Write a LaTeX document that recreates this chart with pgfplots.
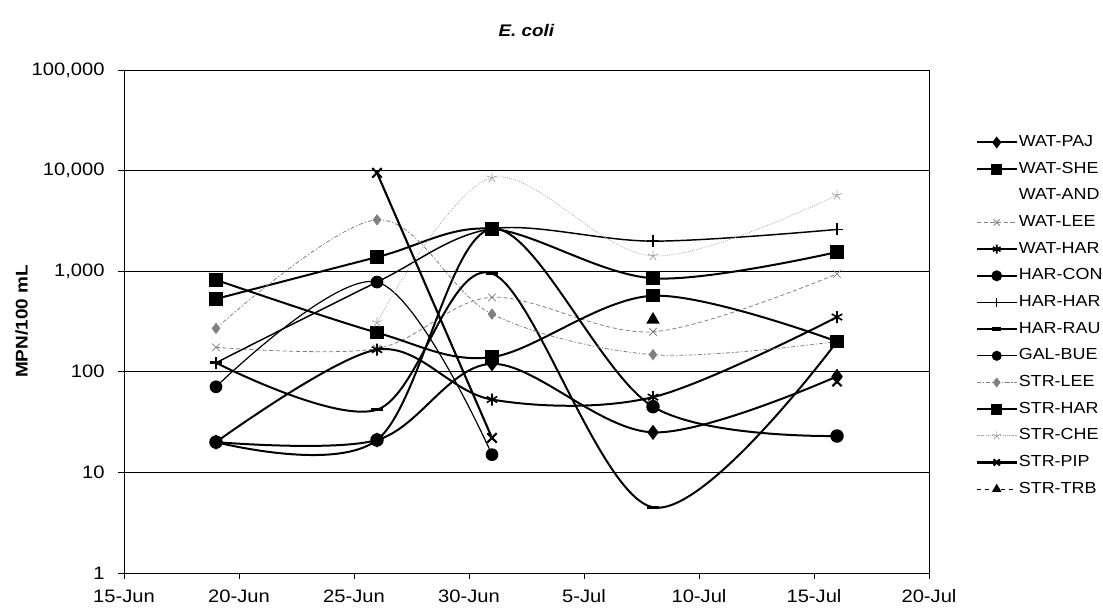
\documentclass[border=0pt]{standalone}
\usepackage{pgfplots}
\pgfplotsset{compat=1.18}
\usepackage{fontspec}
\setmainfont{Liberation Sans}[FakeStretch=1.12]
\begin{document}
\begin{tikzpicture}
\useasboundingbox (-93pt,-28.5pt) rectangle (734.25pt,429.75pt);
\begin{axis}[
  at={(0,0)}, anchor=south west,
  scale only axis, width=603.75pt, height=377.25pt,
  ymode=log, ymin=1, ymax=100000,
  xmin=0, xmax=35,
  xtick={0,5,...,35},
  xticklabels={15-Jun,20-Jun,25-Jun,30-Jun,5-Jul,10-Jul,15-Jul,20-Jul},
  ytick={1,10,100,1000,10000,100000},
  yticklabels={1,10,100,{1,000},{10,000},{100,000}},
  yminorticks=false,
  ymajorgrids, grid style={black, line width=0.6pt},
  axis line style={line width=0.7pt},
  tick style={black, line width=0.6pt},
  tick align=outside, major tick length=4.5pt,
  xtick pos=bottom, ytick pos=left,
  /pgf/number format/assume math mode=true,
  ticklabel style={font=\fontsize{13.5}{15}\selectfont},
  xticklabel style={yshift=-4.5pt},
  yticklabel style={xshift=-6.5pt},
  title={\textbf{\textit{E. coli}}},
  title style={at={(axis description cs:0.5,1.0636)}, anchor=center, font=\fontsize{12.6}{14}\selectfont},
  ylabel={\textbf{MPN/100 mL}},
  ylabel style={at={(axis description cs:-0.127,0.5)}, anchor=center, font=\fontsize{12.7}{14}\selectfont},
  legend style={at={(axis description cs:1.053,0.879)}, anchor=north west, draw=none, fill=none,
    font=\fontsize{12}{14}\selectfont, row sep=7.0pt, cells={anchor=west},
    nodes={inner sep=1pt, text height=8.5pt, text depth=2.5pt}},
  legend image code/.code={\draw[mark repeat=2,mark phase=2,mark size=3.3pt] plot coordinates {(0cm,0cm) (0.52cm,0cm) (1.04cm,0cm)};},
  every axis plot/.append style={smooth, tension=0.55},
  unbounded coords=jump,
]
% WAT-PAJ
\addplot[black, line width=1.5pt, mark=diamond*, mark size=4.5pt, mark options={solid}]
  coordinates {(4,20) (11,21) (16,120) (23,25) (31,90)};
\addlegendentry{WAT-PAJ}
% WAT-SHE
\addplot[black, line width=1.5pt, mark=square*, mark size=4.3pt, mark options={solid}]
  coordinates {(4,530) (11,1380) (16,2640) (23,850) (31,1550)};
\addlegendentry{WAT-SHE}
% WAT-AND (no data)
\addlegendimage{empty legend}
\addlegendentry{WAT-AND}
% WAT-LEE
\addplot[gray, line width=0.6pt, densely dashed, mark=x, mark size=4pt, mark options={solid}]
  coordinates {(4,175) (11,170) (16,550) (23,250) (31,940)};
\addlegendentry{WAT-LEE}
% WAT-HAR
\addplot[black, line width=1.5pt, mark=asterisk, mark size=4.5pt, mark options={solid, line width=1.2pt}]
  coordinates {(4,20) (11,166) (16,53) (23,56) (31,350)};
\addlegendentry{WAT-HAR}
% HAR-CON
\addplot[black, line width=1.5pt, mark=*, mark size=4.3pt, mark options={solid}]
  coordinates {(4,20) (11,21) (16,2640) (23,45) (31,23)};
\addlegendentry{HAR-CON}
% HAR-HAR
\addplot[black, line width=1.1pt, mark=+, mark size=4.5pt, mark options={solid, line width=1pt}]
  coordinates {(4,123) (11,780) (16,2640) (23,1990) (31,2600)};
\addlegendentry{HAR-HAR}
% HAR-RAU
\addplot[black, line width=1.5pt, mark=-, mark size=4.5pt, mark options={solid, line width=2.5pt}]
  coordinates {(4,123) (11,42) (16,950) (23,4.5) (31,200)};
\addlegendentry{HAR-RAU}
% GAL-BUE
\addplot[black, line width=0.9pt, mark=*, mark size=4.3pt, mark options={solid}]
  coordinates {(4,71) (11,780) (16,15)};
\addlegendentry{GAL-BUE}
% STR-LEE
\addplot[gray, line width=0.6pt, dash pattern=on 3pt off 1.5pt on 1pt off 1.5pt, mark=diamond*, mark size=3.8pt, mark options={solid}]
  coordinates {(4,270) (11,3240) (16,375) (23,148) (31,200)};
\addlegendentry{STR-LEE}
% STR-HAR
\addplot[black, line width=1.5pt, mark=square*, mark size=4.3pt, mark options={solid}]
  coordinates {(4,820) (11,245) (16,140) (23,570) (31,200)};
\addlegendentry{STR-HAR}
% STR-CHE
\addplot[gray!70, line width=0.6pt, densely dotted, mark=star, mark size=4pt, mark options={solid}]
  coordinates {(11,310) (16,8500) (23,1420) (31,5700)};
\addlegendentry{STR-CHE}
% STR-PIP
\addplot[black, line width=1.6pt, mark=x, mark size=5pt, mark options={solid, line width=1.6pt}]
  coordinates {(11,9500) (16,22) (23,nan) (31,80)};
\addlegendentry{STR-PIP}
% STR-TRB
\addplot[black, line width=0.8pt, dashed, mark=triangle*, mark size=5pt, mark options={solid}]
  coordinates {(23,330)};
\addlegendentry{STR-TRB}
\end{axis}
\end{tikzpicture}
\end{document}
